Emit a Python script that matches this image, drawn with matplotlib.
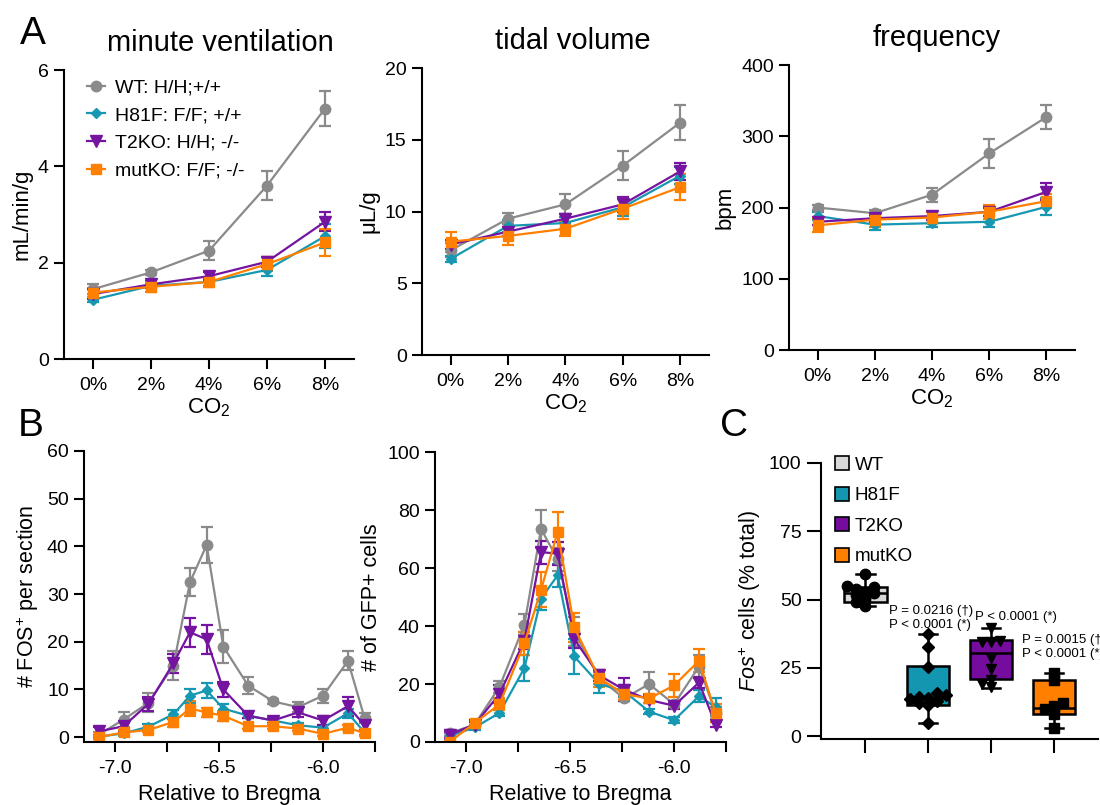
import numpy as np
import matplotlib
matplotlib.use('Agg')
import matplotlib.pyplot as plt
from matplotlib.patches import Patch
from matplotlib.lines import Line2D

plt.rcParams['font.family'] = ['Liberation Sans', 'DejaVu Sans']
plt.rcParams['mathtext.fontset'] = 'custom'
plt.rcParams['mathtext.rm'] = 'Liberation Sans'
plt.rcParams['mathtext.it'] = 'Liberation Sans:italic'
plt.rcParams['axes.linewidth'] = 1.5
plt.rcParams['xtick.major.width'] = 1.5
plt.rcParams['ytick.major.width'] = 1.5
plt.rcParams['xtick.major.size'] = 7
plt.rcParams['ytick.major.size'] = 7
plt.rcParams['xtick.labelsize'] = 14
plt.rcParams['ytick.labelsize'] = 14

# ---- data ----
groups = ['WT', 'H81F', 'T2KO', 'mutKO']
legend_labels = ['WT: H/H;+/+', 'H81F: F/F; +/+', 'T2KO: H/H; -/-', 'mutKO: F/F; -/-']
colors = ['#8a8a8a', '#1798b2', '#7414a0', '#ff8000']
box_colors = ['#d9d9d9', '#1396b0', '#760c9e', '#ff8000']
markers = ['o', 'D', 'v', 's']
msizes = [7.5, 5.5, 8, 7]

co2 = [0, 2, 4, 6, 8]
co2_labels = ['0%', '2%', '4%', '6%', '8%']

# minute ventilation (mL/min/g)
ve_mean = [[1.45, 1.80, 2.25, 3.60, 5.20],
           [1.23, 1.52, 1.60, 1.85, 2.55],
           [1.35, 1.55, 1.72, 2.02, 2.85],
           [1.38, 1.50, 1.60, 1.97, 2.42]]
ve_err = [[0.10, 0.05, 0.20, 0.30, 0.37],
          [0.05, 0.05, 0.08, 0.12, 0.25],
          [0.10, 0.08, 0.08, 0.10, 0.20],
          [0.10, 0.10, 0.10, 0.15, 0.28]]

# tidal volume (uL/g)
vt_mean = [[7.3, 9.5, 10.5, 13.2, 16.2],
           [6.7, 9.0, 9.2, 10.3, 12.5],
           [7.7, 8.6, 9.5, 10.5, 12.8],
           [7.9, 8.3, 8.8, 10.2, 11.7]]
vt_err = [[0.5, 0.4, 0.7, 1.0, 1.2],
          [0.2, 0.4, 0.4, 0.6, 0.6],
          [0.3, 0.3, 0.3, 0.5, 0.6],
          [0.7, 0.6, 0.5, 0.7, 0.9]]

# frequency (bpm)
f_mean = [[200, 192, 218, 276, 327],
          [188, 176, 178, 180, 201],
          [180, 185, 188, 194, 222],
          [175, 183, 186, 194, 209]]
f_err = [[4, 4, 10, 20, 17],
         [6, 8, 5, 8, 12],
         [5, 5, 6, 6, 12],
         [10, 10, 8, 10, 10]]

bregma = [-7.08, -6.96, -6.84, -6.72, -6.64, -6.56, -6.48, -6.36, -6.24, -6.12, -6.00, -5.88, -5.80]

# FOS+ per section
fos_mean = [[0.5, 3.7, 7.2, 15.0, 32.5, 40.3, 19.0, 10.8, 7.5, 6.3, 8.7, 16.0, 4.0],
            [0.1, 0.8, 2.2, 4.8, 8.7, 9.8, 6.0, 4.5, 3.5, 2.5, 2.0, 5.0, 1.0],
            [1.2, 2.3, 7.0, 15.5, 22.0, 20.5, 10.0, 4.5, 3.5, 5.2, 3.5, 6.5, 2.5],
            [0.0, 1.0, 1.5, 3.2, 6.0, 5.2, 4.5, 2.3, 2.3, 1.8, 0.7, 2.0, 0.8]]
fos_err = [[0.5, 1.5, 2.0, 3.0, 3.0, 3.7, 3.5, 1.8, 0.5, 1.0, 1.5, 2.0, 1.0],
           [0.3, 0.5, 0.5, 1.0, 1.5, 1.5, 1.0, 0.5, 0.5, 0.5, 0.5, 1.0, 0.5],
           [1.0, 1.0, 1.5, 2.0, 3.0, 3.0, 1.5, 0.5, 0.5, 1.0, 1.0, 2.0, 1.0],
           [0.3, 0.5, 0.5, 1.0, 1.5, 1.0, 1.0, 0.5, 0.5, 0.5, 0.5, 0.5, 0.5]]

# GFP+ cells
gfp_mean = [[3.0, 6.0, 19.0, 40.5, 73.5, 63.0, 38.0, 22.0, 15.0, 20.0, 13.0, 26.0, 10.0],
            [2.0, 5.0, 10.0, 25.5, 49.5, 57.5, 29.5, 20.0, 17.5, 10.5, 7.5, 15.8, 12.0],
            [2.5, 6.0, 16.5, 35.0, 65.5, 65.0, 35.5, 23.0, 18.0, 14.5, 12.5, 20.5, 6.0],
            [0.0, 6.5, 13.0, 34.0, 52.5, 72.5, 39.5, 22.0, 16.5, 15.0, 19.5, 28.0, 10.0]]
gfp_err = [[1.0, 1.0, 2.0, 3.5, 6.5, 4.0, 5.0, 2.0, 1.0, 4.0, 1.0, 4.0, 2.0],
           [1.0, 1.0, 1.0, 4.5, 4.0, 4.0, 6.0, 3.0, 2.0, 1.0, 1.0, 2.0, 3.0],
           [1.0, 1.0, 3.0, 3.0, 4.0, 4.0, 3.0, 2.0, 4.0, 1.0, 1.0, 2.0, 1.0],
           [0.5, 1.0, 2.0, 4.0, 6.0, 7.0, 5.0, 3.0, 2.0, 1.5, 4.0, 4.0, 3.0]]

# Fos+ cells (% total), box stats and individual points
box_min = [47.5, 4.9, 17.8, 3.1]
box_q1 = [49.0, 11.3, 20.8, 8.2]
box_med = [52.3, 14.0, 30.3, 10.3]
box_q3 = [54.7, 25.7, 35.3, 20.5]
box_max = [59.3, 37.4, 39.5, 23.3]
pts_wt = [59.3, 54.8, 54.5, 53.8, 52.8, 52.3, 51.5, 50.2, 49.2, 47.5]
pts_h81f = [37.4, 32.7, 25.4, 16.0, 15.0, 14.5, 14.0, 13.5, 13.0, 12.0, 11.5, 4.9]
pts_t2ko = [39.5, 35.0, 34.3, 34.3, 28.8, 24.5, 20.5, 19.0, 18.0]
pts_mutko = [23.3, 20.5, 12.0, 10.9, 9.8, 8.0, 3.0]
pvals = [None, 'P = 0.0216 (\u2020)\nP < 0.0001 (*)', 'P < 0.0001 (*)',
         'P = 0.0015 (\u2020)\nP < 0.0001 (*)']


def swarm(vals, dy, dx):
    """simple beeswarm offsets"""
    vals = np.asarray(vals, float)
    xs = np.zeros(len(vals))
    placed = []
    for i in np.argsort(vals):
        v = vals[i]
        off = 0
        for cand in [0, -dx, dx, -2 * dx, 2 * dx]:
            if all(abs(cand - po) > dx * 0.9 or abs(v - pv) > dy for po, pv in placed):
                off = cand
                break
        xs[i] = off
        placed.append((off, v))
    return xs


def style(ax):
    ax.spines['top'].set_visible(False)
    ax.spines['right'].set_visible(False)
    ax.tick_params(direction='out', pad=4)


def line_panel(ax, x, means, errs):
    for k in range(4):
        ax.errorbar(x, means[k], yerr=errs[k], color=colors[k], marker=markers[k],
                    ms=msizes[k], lw=1.6, elinewidth=1.6, capsize=4.5, capthick=1.6)


fig = plt.figure(figsize=(11, 8.05), dpi=100)

# ---- panel A ----
a_rects = [[0.0582, 0.554, 0.2636, 0.359],
           [0.3836, 0.559, 0.2609, 0.3565],
           [0.7173, 0.5652, 0.2600, 0.354]]
a_title_x = [0.538, 0.524, 0.517]
a_data = [(ve_mean, ve_err, 'minute ventilation', 'mL/min/g', (0, 6), [0, 2, 4, 6]),
          (vt_mean, vt_err, 'tidal volume', '\u03bcL/g', (0, 20), [0, 5, 10, 15, 20]),
          (f_mean, f_err, 'frequency', 'bpm', (0, 400), [0, 100, 200, 300, 400])]
axA = []
for rect, tx, (m, e, title, yl, lim, yt) in zip(a_rects, a_title_x, a_data):
    ax = fig.add_axes(rect)
    style(ax)
    line_panel(ax, co2, m, e)
    ax.set_xlim(-1, 9)
    ax.set_ylim(*lim)
    ax.set_yticks(yt)
    ax.set_xticks(co2)
    ax.set_xticklabels(co2_labels)
    ax.tick_params(axis='x', pad=6)
    ax.set_xlabel('CO$_2$', fontsize=16, labelpad=2)
    ax.set_ylabel(yl, fontsize=16, labelpad=4)
    ax.set_title(title, fontsize=21, pad=14, x=tx)
    axA.append(ax)

leg_handles = [Line2D([], [], color=colors[k], marker=markers[k], ms=msizes[k], lw=1.6)
               for k in range(4)]
axA[0].legend(leg_handles, legend_labels, loc='upper left', bbox_to_anchor=(0.02, 1.03),
              frameon=False, fontsize=14, handlelength=0.9, handletextpad=0.5,
              labelspacing=0.52)

# ---- panel B ----
b_ticks = [-7.0, -6.75, -6.5, -6.25, -6.0, -5.75]
b_ticklabels = ['-7.0', '', '-6.5', '', '-6.0', '']
axB1 = fig.add_axes([0.0764, 0.0783, 0.2645, 0.3615])
axB2 = fig.add_axes([0.3955, 0.0783, 0.2645, 0.360])
for ax, m, e, yl, lim, yt in [(axB1, fos_mean, fos_err, '# FOS$^{+}$ per section', (-1, 60), range(0, 61, 10)),
                              (axB2, gfp_mean, gfp_err, '# of GFP+ cells', (0, 100), range(0, 101, 20))]:
    style(ax)
    line_panel(ax, bregma, m, e)
    ax.set_xlim(-7.15, -5.75)
    ax.set_xticks(b_ticks)
    ax.set_xticklabels(b_ticklabels)
    ax.tick_params(axis='x', pad=6)
    ax.set_ylim(*lim)
    ax.set_yticks(list(yt))
    ax.set_xlabel('Relative to Bregma', fontsize=15.5, labelpad=5)
    ax.set_ylabel(yl, fontsize=15.5, labelpad=4)

# ---- panel C ----
axC = fig.add_axes([0.7464, 0.082, 0.2518, 0.343])
style(axC)
pos = [1, 2, 3, 4]
stats = [dict(whislo=box_min[i], q1=box_q1[i], med=box_med[i], q3=box_q3[i],
              whishi=box_max[i], fliers=[]) for i in range(4)]
bp = axC.bxp(stats, positions=pos, widths=0.68, patch_artist=True,
             boxprops=dict(lw=1.8, edgecolor='black'),
             medianprops=dict(color='black', lw=1.8),
             whiskerprops=dict(color='black', lw=1.8),
             capprops=dict(color='black', lw=1.8), capwidths=0.3)
for patch, c in zip(bp['boxes'], box_colors):
    patch.set_facecolor(c)
for i, pts in enumerate([pts_wt, pts_h81f, pts_t2ko, pts_mutko]):
    off = swarm(pts, 2.2, 0.14)
    axC.plot(pos[i] + off, pts, linestyle='none', marker=markers[i], color='black',
             ms=7.5 if i != 1 else 6.5, zorder=5)
axC.set_xlim(0.3, 4.7)
axC.set_ylim(-1, 100)
axC.set_yticks([0, 25, 50, 75, 100])
axC.set_xticks(pos)
axC.set_xticklabels([])
axC.tick_params(axis='both', length=10)
axC.set_ylabel('$\\mathit{Fos}^{+}$ cells (% total)', fontsize=15.5, labelpad=4)
handles = [Patch(facecolor=c, edgecolor='black', lw=1.2) for c in box_colors]
axC.legend(handles, groups, loc='upper left', bbox_to_anchor=(-0.01, 1.085), frameon=False,
           fontsize=13.5, handlelength=0.75, handleheight=0.75, handletextpad=0.3,
           labelspacing=0.7)
p_xy = [None, (1.38, 48.0), (2.75, 45.8), (3.5, 37.5)]
for i in range(1, 4):
    axC.text(p_xy[i][0], p_xy[i][1], pvals[i], fontsize=9.5, va='top', ha='left',
             linespacing=1.25)

# panel letters
fig.text(0.018, 0.945, 'A', fontsize=28)
fig.text(0.016, 0.458, 'B', fontsize=28)
fig.text(0.655, 0.458, 'C', fontsize=28)

fig.savefig('out.png', dpi=100)
